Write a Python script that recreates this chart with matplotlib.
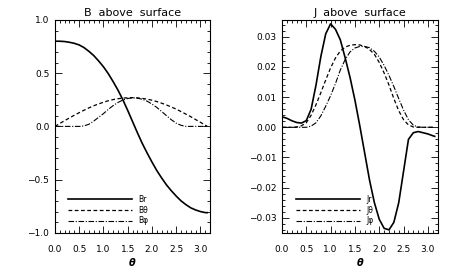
import numpy as np
import matplotlib
matplotlib.use("Agg")
import matplotlib.pyplot as plt
from matplotlib.ticker import MultipleLocator

# theta grid (radians)
theta = [0.0, 0.1, 0.2, 0.3, 0.4, 0.5, 0.6, 0.7, 0.8, 0.9, 1.0, 1.1, 1.2, 1.3,
         1.4, 1.5, 1.6, 1.7, 1.8, 1.9, 2.0, 2.1, 2.2, 2.3, 2.4, 2.5, 2.6, 2.7,
         2.8, 2.9, 3.0, 3.1, 3.14]

# B above surface
b_r = [0.80, 0.80, 0.797, 0.79, 0.78, 0.765, 0.74, 0.705, 0.665, 0.615, 0.56,
       0.495, 0.42, 0.34, 0.25, 0.15, 0.045, -0.06, -0.16, -0.25, -0.335,
       -0.415, -0.485, -0.55, -0.605, -0.655, -0.70, -0.735, -0.765, -0.785,
       -0.80, -0.81, -0.81]
b_theta = [0.0, 0.027, 0.054, 0.080, 0.105, 0.129, 0.152, 0.174, 0.194, 0.211,
           0.227, 0.241, 0.252, 0.260, 0.266, 0.269, 0.270, 0.268, 0.263,
           0.256, 0.246, 0.233, 0.218, 0.201, 0.182, 0.162, 0.139, 0.115,
           0.091, 0.064, 0.038, 0.011, 0.0]
b_phi = [0.0, 0.0, 0.0, 0.0, 0.0, 0.0, 0.005, 0.02, 0.05, 0.085, 0.12, 0.16,
         0.195, 0.225, 0.248, 0.262, 0.268, 0.265, 0.255, 0.237, 0.21, 0.178,
         0.14, 0.10, 0.062, 0.03, 0.01, 0.0, 0.0, 0.0, 0.0, 0.0, 0.0]

# J above surface
j_r = [0.0035, 0.003, 0.0022, 0.0016, 0.0014, 0.0022, 0.006, 0.014, 0.0235,
       0.031, 0.0343, 0.0325, 0.029, 0.023, 0.0165, 0.009, 0.0005, -0.0085,
       -0.0175, -0.025, -0.0305, -0.0335, -0.034, -0.0315, -0.025, -0.0145,
       -0.004, -0.0018, -0.0014, -0.0018, -0.0022, -0.0028, -0.003]
j_theta = [0.0, 0.0, 0.0, 0.0001, 0.0005, 0.0015, 0.004, 0.0075, 0.0115,
           0.0157, 0.0197, 0.023, 0.0253, 0.0266, 0.0272, 0.0274, 0.0273,
           0.0268, 0.0258, 0.0242, 0.0215, 0.018, 0.014, 0.0095, 0.0055,
           0.0025, 0.0008, 0.0001, 0.0, 0.0, 0.0, 0.0, 0.0]
j_phi = [0.0, 0.0, 0.0, 0.0, 0.0, 0.0, 0.0004, 0.0015, 0.0038, 0.007, 0.0105,
         0.0145, 0.019, 0.0225, 0.025, 0.0263, 0.0268, 0.0268, 0.0264, 0.0252,
         0.0233, 0.0205, 0.0172, 0.0135, 0.0095, 0.0057, 0.0025, 0.0007,
         0.0001, 0.0, 0.0, 0.0, 0.0]

b_labels = ["Br", "Bθ", "Bφ"]
j_labels = ["Jr", "Jθ", "Jφ"]

styles = [dict(ls="-", lw=1.2),
          dict(ls=(0, (3, 2)), lw=0.9),
          dict(ls=(0, (5, 1.5, 1, 1.5)), lw=0.8)]

fig = plt.figure(figsize=(4.54, 2.73), dpi=100)
ax1 = fig.add_axes([0.121, 0.147, 0.342, 0.78])
ax2 = fig.add_axes([0.621, 0.147, 0.343, 0.78])


def setup(ax, title, ylim, ymaj, ymin, yfmt):
    ax.set_xlim(0, 3.2)
    ax.set_ylim(*ylim)
    ax.xaxis.set_major_locator(MultipleLocator(0.5))
    ax.xaxis.set_minor_locator(MultipleLocator(0.1))
    ax.yaxis.set_major_locator(MultipleLocator(ymaj))
    ax.yaxis.set_minor_locator(MultipleLocator(ymin))
    ax.tick_params(which="both", direction="in", top=True, right=True,
                   labelsize=6.5, width=0.6)
    ax.tick_params(axis="x", pad=9)
    ax.tick_params(axis="y", pad=4)
    ax.tick_params(which="major", length=5)
    ax.tick_params(which="minor", length=2.5)
    ax.yaxis.set_major_formatter(plt.FuncFormatter(
        lambda v, p: (yfmt % v).replace("-", "\u2212")))
    ax.xaxis.set_major_formatter(plt.FuncFormatter(lambda v, p: "%.1f" % v))
    for s in ax.spines.values():
        s.set_linewidth(0.8)
    ax.set_title(title, fontsize=8, pad=3)
    ax.set_xlabel(r"$\boldsymbol{\theta}$", fontsize=7, labelpad=1)


setup(ax1, "B  above  surface", (-1.0, 1.0), 0.5, 0.1, "%.1f")
setup(ax2, "J  above  surface", (-0.035, 0.0356), 0.01, 0.002, "%.2f")

for ys, lab, st in zip([b_r, b_theta, b_phi], b_labels, styles):
    ax1.plot(theta, ys, color="black", label=lab, **st)
for ys, lab, st in zip([j_r, j_theta, j_phi], j_labels, styles):
    ax2.plot(theta, ys, color="black", label=lab, **st)

for ax, x0 in ((ax1, 0.084), (ax2, 0.09)):
    leg = ax.legend(loc="lower left", bbox_to_anchor=(x0, 0.035),
                    borderaxespad=0, borderpad=0,
                    frameon=False, fontsize=5.5, handlelength=8.4,
                    handletextpad=0.8, labelspacing=0.25)
    for h in leg.get_lines():
        h.set_color("black")

fig.savefig("out.png", dpi=100)
